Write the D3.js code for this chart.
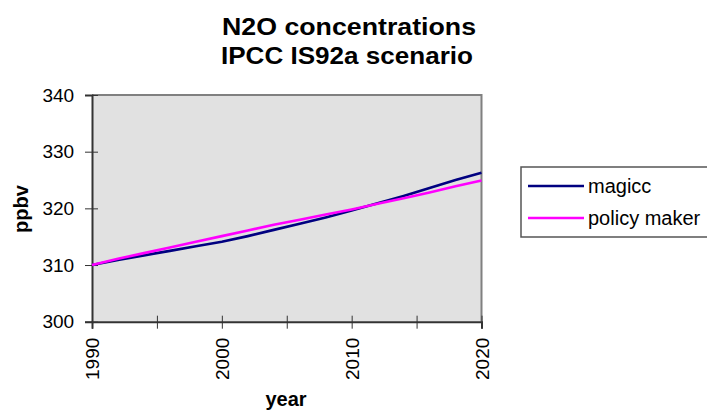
<!DOCTYPE html>
<meta charset="utf-8">
<style>
    body {
        margin: 0;
        background: white;
    }

    text {
        font-family: Arial, "Liberation Sans", sans-serif;
        fill: black;
    }

    .title {
        font-size: 23px;
        font-weight: bold;
    }

    .tick text {
        font-size: 19px;
    }
</style>

<body>
    <svg width="707" height="416"></svg>
    <script src="https://d3js.org/d3.v7.min.js"></script>
    <script>
        var years = [1990, 1992, 1994, 1996, 1998, 2000, 2002, 2004, 2006, 2008, 2010, 2012, 2014, 2016, 2018, 2020];
        var magicc = [310.0, 310.9, 311.7, 312.5, 313.3, 314.1, 315.1, 316.2, 317.3, 318.4, 319.6, 320.9, 322.2, 323.6, 325.0, 326.3];
        var policyMaker = [310.0, 311.1, 312.1, 313.1, 314.1, 315.1, 316.1, 317.1, 318.0, 318.9, 319.8, 320.8, 321.8, 322.8, 323.9, 324.9];
        var yTicks = [300, 310, 320, 330, 340];
        var xTicks = [1990, 1995, 2000, 2005, 2010, 2015, 2020];
        var xLabels = [1990, 2000, 2010, 2020];

        var series = [
            { name: "magicc", values: magicc, color: "#000080" },
            { name: "policy maker", values: policyMaker, color: "#ff00ff" }
        ];

        var svg = d3.select("svg");

        var plotLeft = 92, plotRight = 481.5, plotTop = 95, plotBottom = 321.7;

        var x = d3.scaleLinear().domain([1990, 2020]).range([plotLeft, plotRight]);
        var y = d3.scaleLinear().domain([300, 340]).range([plotBottom, plotTop]);

        // plot background
        svg.append("rect")
            .attr("x", plotLeft)
            .attr("y", plotTop)
            .attr("width", plotRight - plotLeft)
            .attr("height", plotBottom - plotTop)
            .attr("fill", "#e1e1e1");

        // top & right frame
        svg.append("path")
            .attr("d", "M" + plotLeft + "," + plotTop + "H" + plotRight + "V" + plotBottom)
            .attr("fill", "none")
            .attr("stroke", "#808080")
            .attr("stroke-width", 2);

        // y axis
        var yAxis = svg.append("g")
            .attr("transform", "translate(" + plotLeft + ",0)")
            .call(d3.axisLeft(y).tickValues(yTicks).tickSize(7).tickPadding(9).tickFormat(d3.format("d")));
        yAxis.select(".domain").attr("stroke", "#333").attr("stroke-width", 2);
        yAxis.selectAll(".tick line").attr("stroke", "#333").attr("x2", -7).attr("x1", 6);
        yAxis.selectAll(".tick text").attr("dx", "-0.1em");

        // x axis
        var xAxis = svg.append("g")
            .attr("transform", "translate(0," + plotBottom + ")")
            .call(d3.axisBottom(x).tickValues(xTicks).tickSize(7).tickFormat(function(d) {
                return xLabels.indexOf(d) >= 0 ? d : "";
            }));
        xAxis.select(".domain").attr("stroke", "#333").attr("stroke-width", 2);
        xAxis.selectAll(".tick line").attr("stroke", "#333").attr("y1", -6).attr("y2", 7);
        xAxis.selectAll(".tick text")
            .attr("transform", "rotate(-90)")
            .attr("text-anchor", "end")
            .attr("x", -16)
            .attr("y", 0)
            .attr("dy", "0.35em");

        // lines
        var line = d3.line()
            .x(function(d, i) { return x(years[i]); })
            .y(function(d) { return y(d); });

        svg.selectAll(".series")
            .data(series)
            .enter().append("path")
            .attr("class", "series")
            .attr("fill", "none")
            .attr("stroke", function(d) { return d.color; })
            .attr("stroke-width", 2.6)
            .attr("d", function(d) { return line(d.values); });

        // title (glyphs a bit wide in the original, so stretch)
        svg.append("text")
            .attr("class", "title")
            .attr("x", 349)
            .attr("y", 35)
            .attr("text-anchor", "middle")
            .attr("textLength", 254)
            .attr("lengthAdjust", "spacingAndGlyphs")
            .text("N2O concentrations");
        svg.append("text")
            .attr("class", "title")
            .attr("x", 347)
            .attr("y", 64)
            .attr("text-anchor", "middle")
            .attr("textLength", 252)
            .attr("lengthAdjust", "spacingAndGlyphs")
            .text("IPCC IS92a scenario");

        // axis titles
        svg.append("text")
            .attr("transform", "translate(28,209) rotate(-90)")
            .attr("text-anchor", "middle")
            .style("font-size", "20px")
            .style("font-weight", "bold")
            .text("ppbv");
        svg.append("text")
            .attr("x", 286)
            .attr("y", 406)
            .attr("text-anchor", "middle")
            .style("font-size", "20px")
            .style("font-weight", "bold")
            .text("year");

        // legend
        var legend = svg.append("g");
        legend.append("rect")
            .attr("x", 521)
            .attr("y", 167)
            .attr("width", 190)
            .attr("height", 70)
            .attr("fill", "white")
            .attr("stroke", "#555")
            .attr("stroke-width", 1.5);

        var item = legend.selectAll(".item")
            .data(series)
            .enter().append("g")
            .attr("class", "item")
            .attr("transform", function(d, i) { return "translate(0," + (186 + i * 32) + ")"; });
        item.append("line")
            .attr("x1", 528)
            .attr("x2", 584)
            .attr("stroke", function(d) { return d.color; })
            .attr("stroke-width", 2.6);
        item.append("text")
            .attr("x", 588)
            .attr("dy", "0.35em")
            .style("font-size", "20px")
            .text(function(d) { return d.name; });
    </script>
</body>
